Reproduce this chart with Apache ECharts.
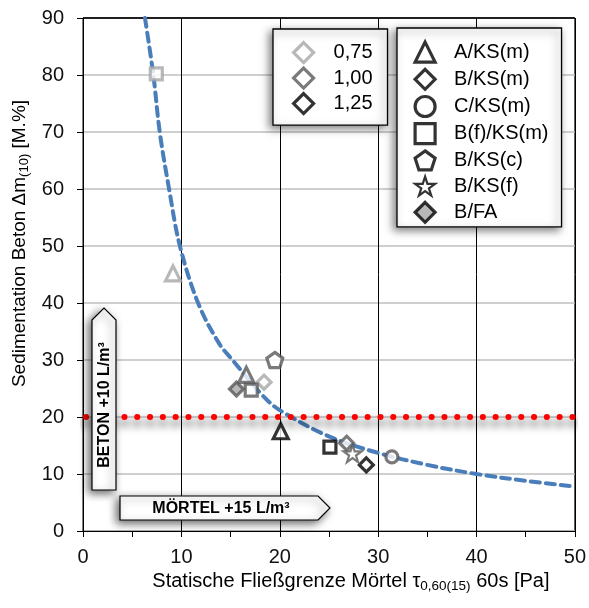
<!DOCTYPE html>
<html>
<head>
<meta charset="utf-8">
<script src="https://cdn.jsdelivr.net/npm/echarts/dist/echarts.min.js"></script>
<style>
  html, body { margin: 0; padding: 0; background: #fff; }
  #chart { width: 589px; height: 608px; }
</style>
</head>
<body>
<div id="chart"></div>
<script>
// ---- data ----
const ratioNames = ['0,75', '1,00', '1,25'];
const mixNames = ['A/KS(m)', 'B/KS(m)', 'C/KS(m)', 'B(f)/KS(m)', 'B/KS(c)', 'B/KS(f)', 'B/FA'];

// [x (Pa), y (M.%), ratio]
const ptsA_KSm  = [[9.15, 45.2, '0,75'], [16.6, 27.4, '1,00'], [20.1, 17.5, '1,25']];
const ptsB_KSm  = [[18.4, 26.1, '0,75'], [26.8, 15.4, '1,00'], [28.8, 11.6, '1,25']];
const ptsC_KSm  = [[31.4, 13.0, '1,00']];
const ptsBf_KSm = [[7.45, 80.2, '0,75'], [17.1, 24.7, '1,00'], [25.1, 14.7, '1,25']];
const ptsB_KSc  = [[19.5, 30.0, '1,00']];
const ptsB_KSf  = [[27.4, 13.6, '1,00']];
const ptsB_FA   = [[15.6, 24.9, '1,00']];

// dashed trend curve
const trendX = [6.3, 7.15, 7.8, 8.75, 9.85, 11.7, 13.8, 15.2, 18.3, 20, 25, 30, 35, 40, 45, 50];
const trendY = [90, 80, 70, 60, 50, 40, 33, 30, 23.7, 21.2, 16.6, 13.7, 11.6, 10.0, 8.8, 7.8];

// limit line
const limitY = 20;
const xRange = [0, 50];
const yRange = [0, 90];

// ---- styles ----
const FONT = '"Liberation Sans", Arial, sans-serif';
const ratioColor = { '0,75': '#A6A6A6', '1,00': '#595959', '1,25': '#000000' };
const PENTAGON = 'path://M50,0 L97.55,34.55 L79.39,90.45 L20.61,90.45 L2.45,34.55 Z';
const STAR = 'path://M50,0 L61.2,34.5 L97.55,34.55 L68.2,55.9 L79.39,90.45 L50,69.1 L20.61,90.45 L31.8,55.9 L2.45,34.55 L38.8,34.5 Z';
const BW = 3.2;

function shapeSeries(name, pts, symbol, size, fill, bw) {
  const f = fill || '#ffffff';
  const w = bw || BW;
  return {
    name: name, type: 'scatter', symbol: symbol, symbolSize: size, symbolKeepAspect: true, z: 6,
    itemStyle: { color: f, borderColor: '#000', borderWidth: w },
    emphasis: { disabled: true },
    data: pts.map(p => ({
      value: [p[0], p[1]],
      itemStyle: { color: f, borderColor: ratioColor[p[2]], borderWidth: w }
    }))
  };
}

const series = [];
// trend curve
series.push({
  name: 'trend', type: 'line', smooth: 0.35, symbol: 'none', z: 3, silent: true,
  data: trendX.map((x, i) => [x, trendY[i]]),
  lineStyle: { color: '#4A7EBB', width: 4, type: [9, 6], cap: 'round' }
});
// limit dotted line
series.push({
  name: 'limit', type: 'line', symbol: 'none', z: 4, silent: true,
  data: [[xRange[0], limitY], [xRange[1], limitY]],
  lineStyle: {
    color: '#FF0000', width: 6, type: [0.1, 12.7], cap: 'round', dashOffset: 9.8,
    shadowColor: 'rgba(0,0,0,0.85)', shadowBlur: 8, shadowOffsetY: 6
  }
});
// legend-only ratio series
ratioNames.forEach(n => series.push({
  name: n, type: 'scatter', symbol: 'diamond', data: [],
  itemStyle: { color: '#fff', borderColor: ratioColor[n], borderWidth: BW }
}));
// shape series
series.push(shapeSeries('A/KS(m)', ptsA_KSm, 'triangle', 15));
series.push(shapeSeries('B/KS(m)', ptsB_KSm, 'diamond', 14));
series.push(shapeSeries('C/KS(m)', ptsC_KSm, 'circle', 12));
series.push(shapeSeries('B(f)/KS(m)', ptsBf_KSm, 'rect', 12));
series.push(shapeSeries('B/KS(c)', ptsB_KSc, PENTAGON, 16));
series.push(shapeSeries('B/KS(f)', ptsB_KSf, STAR, 18, null, 2.2));
series.push(shapeSeries('B/FA', ptsB_FA, 'diamond', 14, '#A6A6A6'));

const legendBase = {
  orient: 'vertical', selectedMode: false, itemWidth: 20, itemHeight: 20,
  backgroundColor: '#fff', borderColor: '#000', borderWidth: 1.3,
  shadowColor: 'rgba(0,0,0,0.5)', shadowBlur: 8, shadowOffsetX: -3, shadowOffsetY: 3,
  textStyle: { fontFamily: FONT, fontSize: 20, color: '#000' }
};

const chart = echarts.init(document.getElementById('chart'), null, { renderer: 'canvas' });
chart.setOption({
  animation: false,
  backgroundColor: '#fff',
  grid: { left: 83, top: 18, right: 12, bottom: 77, show: true, borderColor: '#000', borderWidth: 1, backgroundColor: 'transparent' },
  xAxis: {
    type: 'value', min: xRange[0], max: xRange[1], interval: 10,
    name: 'Statische Fließgrenze Mörtel τ{s|0,60(15)} 60s [Pa]',
    nameLocation: 'middle', nameGap: 39,
    nameTextStyle: {
      fontFamily: FONT, fontSize: 20, color: '#000', padding: [0, 0, 0, 44],
      rich: { s: { fontFamily: FONT, fontSize: 13.5, color: '#000', padding: [9, 0, 0, 0] } }
    },
    axisLine: { show: true, onZero: false, lineStyle: { color: '#000', width: 1 } },
    axisTick: { show: true, length: 6, lineStyle: { color: '#000' } },
    minorTick: { show: true, splitNumber: 2, length: 6, lineStyle: { color: '#000' } },
    axisLabel: { fontFamily: FONT, fontSize: 20, color: '#111', margin: 16 },
    splitLine: { show: true, lineStyle: { color: '#000', width: 1 } }
  },
  yAxis: {
    type: 'value', min: yRange[0], max: yRange[1], interval: 10,
    name: 'Sedimentation Beton Δm{s|(10)} [M.%]',
    nameLocation: 'middle', nameGap: 50,
    nameTextStyle: {
      fontFamily: FONT, fontSize: 19, color: '#000', padding: [0, 0, 0, 62],
      rich: { s: { fontFamily: FONT, fontSize: 13, color: '#000', padding: [9, 0, 0, 0] } }
    },
    axisLine: { show: true, onZero: false, lineStyle: { color: '#000', width: 1 } },
    axisTick: { show: true, length: 6, lineStyle: { color: '#000' } },
    axisLabel: { fontFamily: FONT, fontSize: 20, color: '#111', margin: 19 },
    splitLine: { show: true, lineStyle: { color: ['#BFBFBF','#BFBFBF','#BFBFBF','#BFBFBF','#BFBFBF','#BFBFBF','#BFBFBF','#BFBFBF','#BFBFBF','#000'], width: 1.5 } }
  },
  legend: [
    Object.assign({}, legendBase, {
      data: ratioNames.map(n => ({ name: n, itemStyle: { color: '#fff', borderColor: ratioColor[n], borderWidth: BW } })),
      left: 273, top: 29, itemGap: 2.3,
      padding: [12, 15, 10, 19],
      textStyle: Object.assign({}, legendBase.textStyle, { padding: [0, 0, 0, 15] })
    }),
    Object.assign({}, legendBase, {
      data: mixNames.map(n => ({ name: n, itemStyle: { color: n === 'B/FA' ? '#A6A6A6' : '#fff', borderColor: '#000', borderWidth: n === 'B/KS(f)' ? 2.2 : BW } })),
      left: 397, top: 28, itemGap: 4,
      padding: [12.5, 13, 3, 16.5],
      textStyle: Object.assign({}, legendBase.textStyle, { padding: [0, 0, 0, 14] })
    })
  ],
  graphic: [
    {
      type: 'polygon', z: 100,
      shape: { points: [[92, 320], [104, 308], [116, 320], [116, 490], [92, 490]] },
      style: { fill: '#fff', stroke: '#000', lineWidth: 1.2, shadowBlur: 8, shadowColor: 'rgba(0,0,0,0.6)', shadowOffsetX: -3, shadowOffsetY: 3 }
    },
    {
      type: 'text', z: 101, x: 104.5, y: 405, rotation: Math.PI / 2,
      style: { text: 'BETON +10 L/m³', font: 'bold 16px ' + FONT, fill: '#000', align: 'center', verticalAlign: 'middle' }
    },
    {
      type: 'polygon', z: 100,
      shape: { points: [[120, 496], [318, 496], [330, 508], [318, 520], [120, 520]] },
      style: { fill: '#fff', stroke: '#000', lineWidth: 1.2, shadowBlur: 8, shadowColor: 'rgba(0,0,0,0.6)', shadowOffsetX: -3, shadowOffsetY: 3 }
    },
    {
      type: 'text', z: 101, x: 221, y: 508.5,
      style: { text: 'MÖRTEL +15 L/m³', font: 'bold 16px ' + FONT, fill: '#000', align: 'center', verticalAlign: 'middle' }
    }
  ],
  series: series
});
</script>
</body>
</html>
